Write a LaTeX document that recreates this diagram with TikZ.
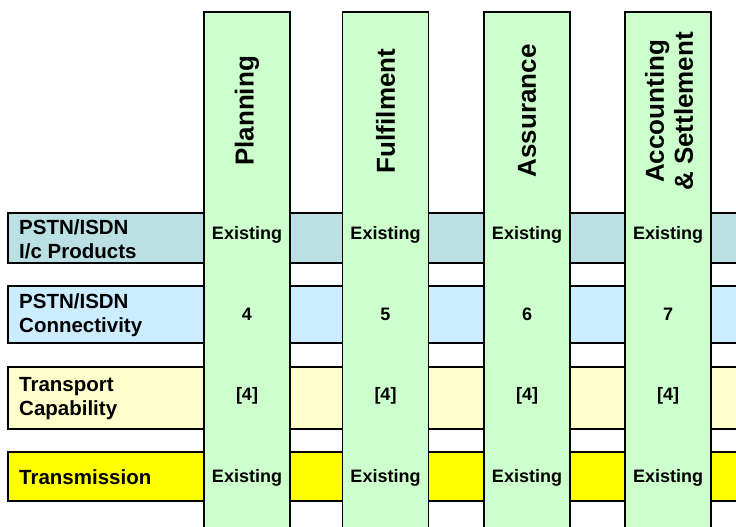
\documentclass[tikz,border=0pt]{standalone}
\usepackage{fontspec}
\setmainfont{Liberation Sans}
\usepackage{tikz}

\definecolor{icprod}{HTML}{BBE0E3}
\definecolor{conn}{HTML}{CCECFF}
\definecolor{transp}{HTML}{FFFFCC}
\definecolor{transm}{HTML}{FFFF00}
\definecolor{proc}{HTML}{CCFFCC}

\begin{document}
\begin{tikzpicture}[x=1pt,y=-1pt,
	lane/.style={draw=black,line width=1.8pt},
	lanetext/.style={anchor=west,align=left,inner sep=0pt,font=\fontsize{20.5}{24}\selectfont\bfseries},
	cell/.style={anchor=base,inner sep=0pt,font=\fontsize{18}{20}\selectfont\bfseries},
	head/.style={rotate=90,align=center,inner sep=0pt,font=\fontsize{26}{29}\selectfont\bfseries}]
		\useasboundingbox (0,0) rectangle (736,527);
		\clip (0,0) rectangle (736,527);
		% Draw layers
		\foreach \top/\bot/\col in {213/263/icprod,286/343/conn,367/429/transp,452/501/transm}
		\draw[lane,fill=\col] (8,\top) rectangle (750,\bot);
		\node[lanetext] (icprod) at (19,239) {PSTN/ISDN\\I/c Products};
		\node[lanetext] (conn) at (19,315) {PSTN/ISDN\\Connectivity};
		\node[lanetext] (transp) at (19,399) {Transport\\Capability};
		\node[lanetext] (transm) at (19,477) {Transmission};
		% Draw processes
		\foreach \l in {204,342.5,484,625} {
		\fill[proc] (\l,12) rectangle +(86,530);
		\draw[line width=1.8pt] (\l,540) -- (\l,12) -- ++(86,0) -- ++(0,528);
		}
		\node[head] (plan) at (247,111) {Planning};
		\node[head] (ful) at (385.5,111) {Fulfilment};
		\node[head] (ass) at (527,111) {Assurance};
		\node[head] (acc) at (669,111.5) {Accounting\\\& Settlement};
		\foreach \c/\x/\n in {plan/247/4,ful/385.5/5,ass/527/6,acc/668/7} {
		\node[cell] (\c-ic) at (\x,239) {Existing};
		\node[cell] (\c-conn) at (\x,320) {\n};
		\node[cell] (\c-transp) at (\x,400) {[4]};
		\node[cell] (\c-transm) at (\x,482) {Existing};
		}
	\end{tikzpicture}
\end{document}
